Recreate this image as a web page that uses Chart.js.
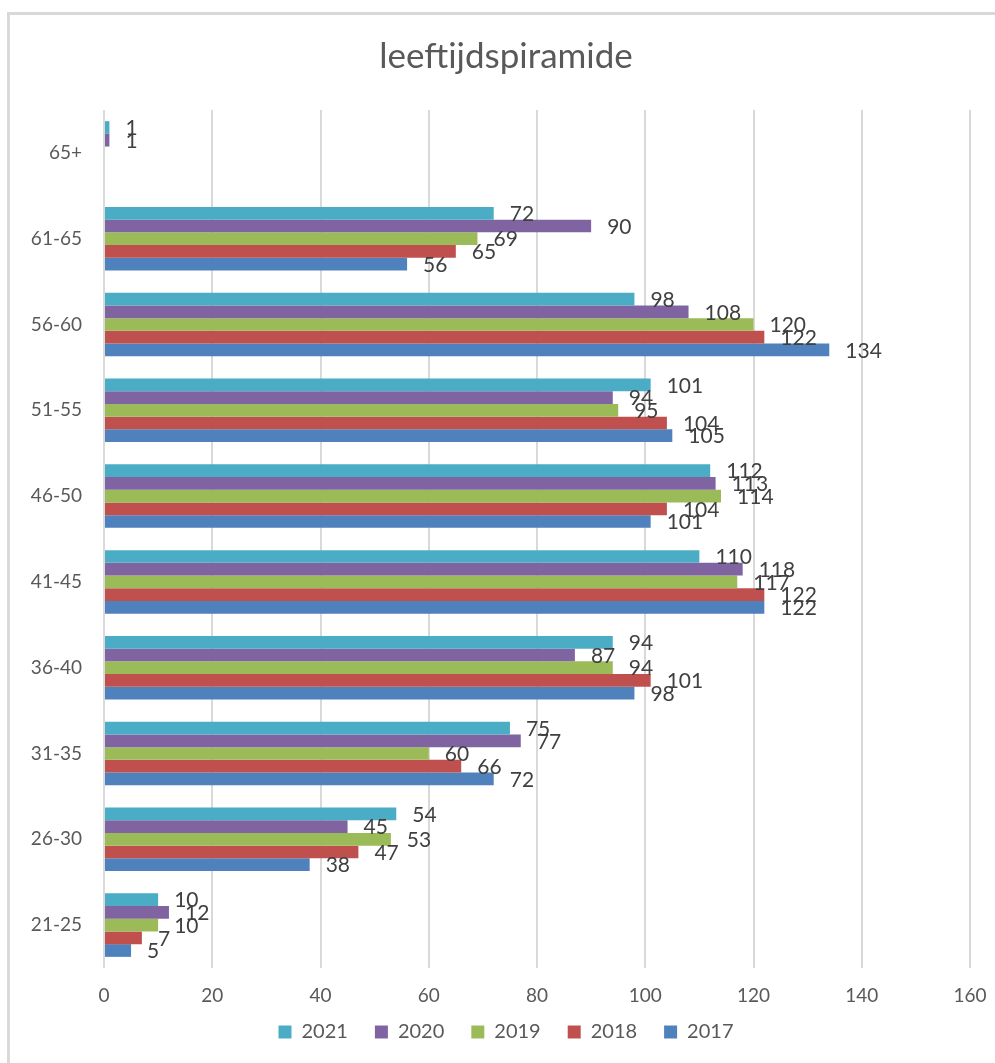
<!DOCTYPE html>
<html>
<head>
<meta charset="utf-8">
<script src="https://cdn.jsdelivr.net/npm/chart.js@4"></script>
<style>
  body { margin: 0; background: #fff; overflow: hidden; }
  #frame { position: absolute; left: 7px; top: 12px; width: 1010px; height: 1070px; border: 3px solid #d9d9d9; }
  #wrap { position: absolute; left: 0; top: 0; width: 1012px; height: 1063px; }
</style>
</head>
<body>
<div id="frame"></div>
<div id="wrap"><canvas id="pyramidChart"></canvas></div>
<script>
// age groups, top to bottom as in the picture
const ageGroups = ['65+', '61-65', '56-60', '51-55', '46-50', '41-45', '36-40', '31-35', '26-30', '21-25'];

const values2021 = [1, 72, 98, 101, 112, 110, 94, 75, 54, 10];
const values2020 = [1, 90, 108, 94, 113, 118, 87, 77, 45, 12];
const values2019 = [null, 69, 120, 95, 114, 117, 94, 60, 53, 10];
const values2018 = [null, 65, 122, 104, 104, 122, 101, 66, 47, 7];
const values2017 = [null, 56, 134, 105, 101, 122, 98, 72, 38, 5];

const xTicks = [0, 20, 40, 60, 80, 100, 120, 140, 160];

const fontName = 'Lato, "Open Sans", sans-serif';

// value labels at the end of each bar
const barLabels = {
    id: 'barLabels',
    afterDatasetsDraw(chart) {
        const ctx = chart.ctx;
        ctx.save();
        ctx.font = '21px ' + fontName;
        ctx.fillStyle = '#404040';
        ctx.textAlign = 'left';
        ctx.textBaseline = 'middle';
        chart.data.datasets.forEach((ds, i) => {
            const meta = chart.getDatasetMeta(i);
            meta.data.forEach((bar, j) => {
                const v = ds.data[j];
                if (v === null || v === undefined) return;
                ctx.fillText(String(v), bar.x + 16, bar.y + 1);
            });
        });
        ctx.restore();
    }
};

const pyramidChart = document.getElementById('pyramidChart').getContext('2d');
const data = {
    labels: ageGroups,
    datasets: [
        { label: '2021', data: values2021, backgroundColor: '#4BACC6' },
        { label: '2020', data: values2020, backgroundColor: '#8064A2' },
        { label: '2019', data: values2019, backgroundColor: '#9BBB59' },
        { label: '2018', data: values2018, backgroundColor: '#C0504D' },
        { label: '2017', data: values2017, backgroundColor: '#4F81BD' }
    ]
};

const options = {
    indexAxis: 'y',
    responsive: true,
    maintainAspectRatio: false,
    animation: false,
    categoryPercentage: 0.74,
    barPercentage: 1.0,
    layout: { padding: { left: 0, right: 0, top: 0, bottom: 11 } },
    plugins: {
        title: {
            display: true,
            text: 'leeftijdspiramide',
            color: '#595959',
            font: { family: fontName, size: 35, weight: 'normal' },
            padding: { top: 36, bottom: 32 }
        },
        legend: {
            position: 'bottom',
            labels: {
                color: '#595959',
                font: { family: fontName, size: 20 },
                boxWidth: 13,
                boxHeight: 13,
                padding: 17,
                // a little extra room after each entry, like the original legend
                generateLabels: chart => {
                    const items = Chart.defaults.plugins.legend.labels.generateLabels(chart);
                    items.forEach((it, i) => { if (i < items.length - 1) it.text = it.text + '\u2002'; });
                    return items;
                }
            }
        },
        tooltip: { enabled: false }
    },
    scales: {
        x: {
            min: 0,
            max: 160,
            afterBuildTicks: scale => { scale.ticks = xTicks.map(v => ({ value: v })); },
            afterFit: scale => { scale.height = 37; scale.paddingRight = 42; },
            grid: { color: '#d9d9d9', lineWidth: 2, drawTicks: false },
            border: { display: false },
            ticks: { color: '#595959', font: { family: fontName, size: 19, lineHeight: 1 }, padding: 18 }
        },
        y: {
            afterFit: scale => { scale.width = 104; },
            grid: { display: false },
            border: { display: false },
            ticks: { color: '#595959', font: { family: fontName, size: 19 }, padding: 14 }
        }
    }
};

const chart = new Chart(pyramidChart, {
    type: 'bar',
    data: data,
    options: options,
    plugins: [barLabels]
});
</script>
</body>
</html>
